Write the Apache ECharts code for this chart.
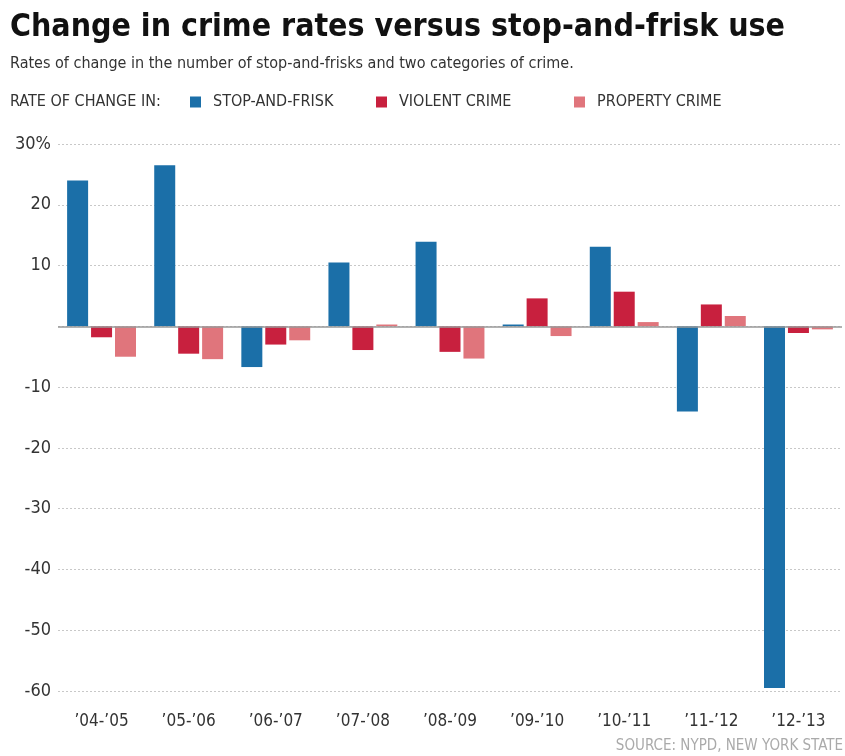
<!DOCTYPE html>
<html><head><meta charset="utf-8">
<script src="https://cdn.jsdelivr.net/npm/echarts@6/dist/echarts.min.js"></script>
<style>html,body{margin:0;padding:0;background:#fff}#c{width:845px;height:756px}</style>
</head><body><div id="c"></div>
<script>
const categories = ["’04-’05","’05-’06","’06-’07","’07-’08","’08-’09","’09-’10","’10-’11","’11-’12","’12-’13"];
const stopAndFrisk = [24.0, 26.5, -6.7, 10.5, 13.9, 0.3, 13.1, -14.0, -59.5];
const violentCrime = [-1.8, -4.5, -3.0, -3.9, -4.2, 4.6, 5.7, 3.6, -1.1];
const propertyCrime = [-5.0, -5.4, -2.3, 0.3, -5.3, -1.6, 0.7, 1.7, -0.5];
const yTicks = [-60, -50, -40, -30, -20, -10, 0, 10, 20, 30];

const FONT = "'Liberation Sans Narrow','DejaVu Sans Condensed','Roboto',sans-serif";
const BLUE = '#1b6fa8', RED = '#c8203e', PINK = '#e0757c';
const chart = echarts.init(document.getElementById('c'));
const legendBase = {top: 94, padding: 0, itemWidth: 11, itemHeight: 11, icon: 'rect', selectedMode: false,
  textStyle: {fontFamily: FONT, fontSize: 16, color: '#333', padding: [0,0,0,7]}};
chart.setOption({
  animation: false,
  textStyle: {fontFamily: FONT},
  title: [
    {text: 'Change in crime rates versus stop-and-frisk use', left: 10, top: 12, padding: 0,
     textStyle: {fontFamily: FONT, fontWeight: 'bold', fontSize: 31.8, color: '#111'}},
    {text: 'Rates of change in the number of stop-and-frisks and two categories of crime.', left: 10, top: 56, padding: 0,
     textStyle: {fontFamily: FONT, fontWeight: 'normal', fontSize: 16, color: '#333'}},
    {text: 'RATE OF CHANGE IN:', left: 10, top: 94, padding: 0,
     textStyle: {fontFamily: FONT, fontWeight: 'normal', fontSize: 16, color: '#333'}},
    {text: 'SOURCE: NYPD, NEW YORK STATE', right: 2, top: 739, padding: 0,
     textStyle: {fontFamily: FONT, fontWeight: 'normal', fontSize: 15, color: '#aaa'}}
  ],
  legend: [
    Object.assign({}, legendBase, {left: 190, data: ['STOP-AND-FRISK']}),
    Object.assign({}, legendBase, {left: 376, data: ['VIOLENT CRIME']}),
    Object.assign({}, legendBase, {left: 574, data: ['PROPERTY CRIME']})
  ],
  grid: {left: 58, right: 3, top: 144, bottom: 65, containLabel: false},
  xAxis: {
    type: 'category', data: categories, position: 'bottom',
    axisLine: {show: false}, axisTick: {show: false},
    axisLabel: {fontFamily: FONT, fontSize: 17, color: '#333', margin: 22}
  },
  yAxis: {
    type: 'value', min: -60, max: 30, interval: 10,
    axisLine: {show: false}, axisTick: {show: false},
    axisLabel: {fontFamily: FONT, fontSize: 18, color: '#333', margin: 7,
      formatter: v => (yTicks.includes(v) ? (v === 30 ? '30%' : v === 0 ? '' : String(v)) : '')},
    splitLine: {lineStyle: {color: '#c8c8c8', type: [2, 2], width: 1}}
  },
  series: [
    {name: 'STOP-AND-FRISK', type: 'bar', data: stopAndFrisk, barWidth: 21, barGap: '14%',
     itemStyle: {color: BLUE},
     markLine: {silent: true, symbol: 'none', label: {show: false},
       lineStyle: {color: '#999', type: 'solid', width: 1.5}, data: [{yAxis: 0}]}},
    {name: 'VIOLENT CRIME', type: 'bar', data: violentCrime, barWidth: 21, barGap: '14%', itemStyle: {color: RED}},
    {name: 'PROPERTY CRIME', type: 'bar', data: propertyCrime, barWidth: 21, barGap: '14%', itemStyle: {color: PINK}}
  ]
});
</script></body></html>
